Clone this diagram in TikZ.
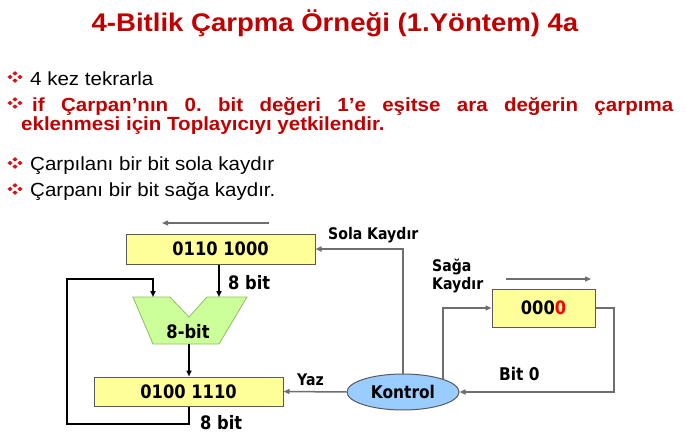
\documentclass[tikz,border=0pt]{standalone}
\usepackage{fontspec}
\setmainfont{Liberation Sans}[FakeStretch=1.08]
\newfontfamily\dgf{DejaVu Sans}[FakeStretch=0.88]
\usetikzlibrary{arrows.meta,shapes.geometric}
\definecolor{titlered}{RGB}{192,0,0}
\definecolor{bulletred}{RGB}{210,20,20}
\definecolor{regyellow}{RGB}{255,255,153}
\definecolor{addgreen}{RGB}{204,255,153}
\definecolor{addedge}{RGB}{140,190,100}
\definecolor{ctlblue}{RGB}{153,204,255}
\definecolor{boxedge}{RGB}{90,90,90}
\definecolor{wiregray}{RGB}{110,110,110}
\tikzset{
  % four small diamonds arranged as a list bullet
  fourdia/.pic={
    \foreach \dx/\dy in {-5/0,5/0,0/-3.6,0/3.6}{
      \fill[bulletred] (\dx-2.6,\dy) -- (\dx,\dy-2.2) -- (\dx+2.6,\dy) -- (\dx,\dy+2.2) -- cycle;
    }
  },
  body/.style={anchor=base west,inner sep=0pt,font=\fontsize{19}{22}\selectfont},
  redbody/.style={body,text=titlered,font=\fontsize{19}{22}\selectfont\bfseries},
  regbox/.style={draw=boxedge,fill=regyellow,line width=1pt,inner sep=0pt,
    font=\dgf\bfseries\fontsize{18.5}{20}\selectfont},
  ctl/.style={ellipse,draw=boxedge,fill=ctlblue,line width=1pt,minimum width=112pt,
    minimum height=36pt,inner sep=0pt,font=\dgf\bfseries\fontsize{17.5}{19}\selectfont},
  lbl/.style={inner sep=0pt,font=\dgf\bfseries\fontsize{16}{18}\selectfont},
  biglbl/.style={inner sep=0pt,font=\dgf\bfseries\fontsize{18.5}{20}\selectfont},
  tip/.style={-{Triangle[length=6pt,width=5pt]}},
  thickwire/.style={line width=2pt,draw=black},
  grayline/.style={line width=1.5pt,draw=wiregray},
}
\begin{document}
\frenchspacing
\begin{tikzpicture}[x=1pt,y=-1pt]
\useasboundingbox (0,0) rectangle (686,447);

% title
\node[anchor=base,inner sep=0pt,text=titlered,font=\fontsize{25.5}{30}\selectfont\bfseries]
  (title) at (335,31.7) {4-Bitlik Çarpma Örneği (1.Yöntem) 4a};

% bullet list
\pic at (15,77) {fourdia};
\node[body] (t1) at (30,85) {4 kez tekrarla};
\pic at (15,103) {fourdia};
\node[redbody] (t2) at (32,111) {\makebox[641pt][s]{if Çarpan’nın 0. bit değeri 1’e eşitse ara değerin çarpıma}};
\node[redbody] (t3) at (21,130) {eklenmesi için Toplayıcıyı yetkilendir.};
\pic at (15,163) {fourdia};
\node[body] (t4) at (30,170.7) {Çarpılanı bir bit sola kaydır};
\pic at (15,189) {fourdia};
\node[body] (t5) at (30,196.7) {Çarpanı bir bit sağa kaydır.};

% registers and control
\node[regbox,minimum width=189pt,minimum height=30pt] (top) at (220.5,249) {0110 1000};
\node[regbox,minimum width=189pt,minimum height=29pt] (bot) at (188.5,391.5) {0100 1110};
\node[regbox,minimum width=103pt,minimum height=38pt] (rb) at (543.5,308) {000\textcolor{red}{0}};
\node[ctl] (k) at (403,392) {Kontrol};

% adder
\coordinate (addL) at (153,297);
\coordinate (addR) at (219,297);
\coordinate (addB) at (189,344);
\filldraw[fill=addgreen,draw=addedge,line width=0.8pt]
  (133,297) -- (170,297) -- (189,317) -- (207,297) -- (247,297)
  -- (219,344) -- (153,344) -- cycle;
\node[biglbl] (addtxt) at (188,332) {8-bit};

% data paths
\draw[thickwire,tip] (addR |- top.south) -- (addR);
\draw[thickwire,tip] (addB) -- (addB |- bot.north);
\coordinate (lpA) at (189,424);
\coordinate (lpB) at (67,279);
\draw[thickwire,tip] (lpA |- bot.south) -- (lpA) -| (lpB) -| (addL);

% control paths
\coordinate (rt) at (614,308);
\draw[grayline,tip] (k.north) |- (top.east);
\draw[grayline,tip] (k.west) -- (bot.east);
\draw[grayline,tip] (k.18) |- (rb.west);
\draw[grayline,tip] (rb.east) -- (rt) |- (k.east);

% shift direction arrows
\coordinate (sl1) at (269,223);
\coordinate (sl2) at (162,223);
\coordinate (sr1) at (506,279);
\coordinate (sr2) at (591,279);
\draw[line width=1.2pt,draw=wiregray,tip] (sl1) -- (sl2);
\draw[line width=1.2pt,draw=wiregray,tip] (sr1) -- (sr2);

% labels
\node[biglbl,anchor=west] (l8a) at (228,283) {8 bit};
\node[biglbl,anchor=west] (l8b) at (200,423) {8 bit};
\node[lbl,anchor=west] (lsola) at (328,235) {Sola Kaydır};
\node[lbl,anchor=west] (lyaz) at (297,380) {Yaz};
\node[lbl,anchor=north west,align=left] (lsag) at (432,259) {Sağa\\[0pt]Kaydır};
\node[lbl,anchor=west,font=\dgf\bfseries\fontsize{17.5}{19}\selectfont] (lbit) at (499,374) {Bit 0};
\end{tikzpicture}
\end{document}
